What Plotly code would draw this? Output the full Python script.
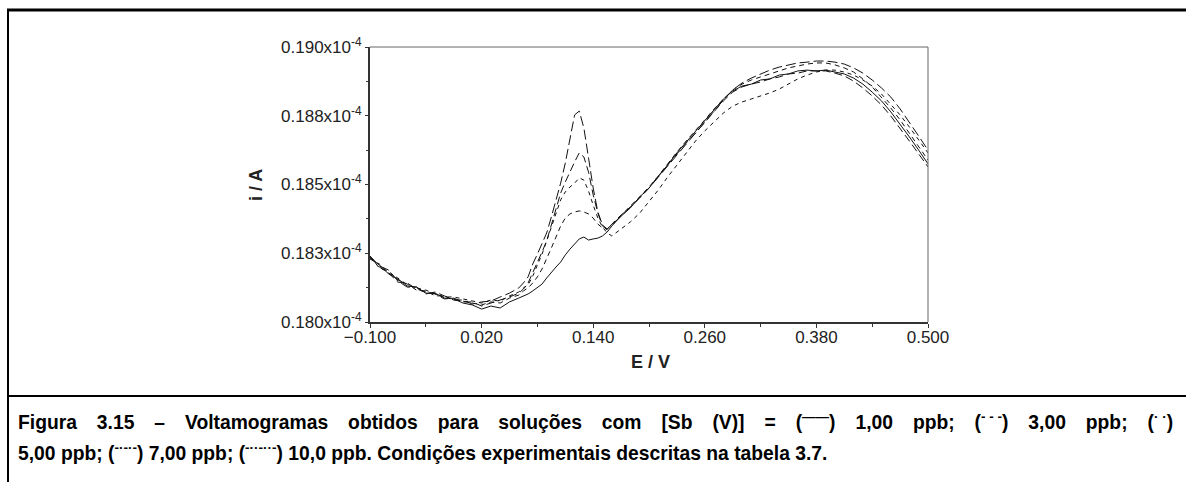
import plotly.graph_objects as go

# Potential E / V
E = [-0.10, -0.09, -0.08, -0.07, -0.06, -0.05, -0.04, -0.03, -0.02, -0.01, 0.00, 0.01, 0.02, 0.03, 0.04, 0.05, 0.06,
     0.065, 0.07, 0.075, 0.08, 0.085, 0.09, 0.095, 0.10, 0.105, 0.11, 0.115, 0.12, 0.125, 0.13, 0.135, 0.14, 0.145, 0.15, 0.155,
     0.16, 0.17, 0.18, 0.19, 0.20, 0.21, 0.22, 0.23, 0.24, 0.25, 0.26, 0.27, 0.28, 0.29, 0.30, 0.31, 0.32, 0.33, 0.34,
     0.35, 0.36, 0.37, 0.38, 0.39, 0.40, 0.41, 0.42, 0.43, 0.44, 0.45, 0.46, 0.47, 0.48, 0.49, 0.50]

# Current, in units of 1e-4 A
i_1ppb = [.18233, .18207, .18175, .18156, .18131, .18127, .18105, .18105, .18087, .18084, .18069, .18062, .18047, .18058, .18051, .18073, .18087,
          .18095, .18102, .18113, .18124, .18138, .18160, .18182, .18200, .18218, .18244, .18265, .18284, .18302, .18309, .18298, .18302, .18305, .18313, .18327,
          .18349, .18385, .18415, .18455, .18487, .18527, .18571, .18615, .18655, .18691, .18731, .18771, .18811, .18840, .18858, .18865, .18880, .18884, .18898,
          .18902, .18913, .18916, .18913, .18916, .18909, .18902, .18887, .18865, .18836, .18804, .18764, .18720, .18673, .18625, .18575]

i_3ppb = [.18240, .18196, .18185, .18153, .18138, .18116, .18113, .18095, .18095, .18080, .18076, .18069, .18062, .18073, .18069, .18087, .18098,
          .18113, .18124, .18142, .18164, .18193, .18229, .18269, .18309, .18349, .18378, .18393, .18400, .18404, .18400, .18393, .18378, .18356, .18342, .18338,
          .18353, .18389, .18422, .18455, .18491, .18531, .18575, .18618, .18658, .18695, .18735, .18775, .18811, .18844, .18865, .18880, .18891, .18902, .18913,
          .18924, .18931, .18938, .18942, .18942, .18935, .18924, .18909, .18884, .18855, .18818, .18778, .18735, .18687, .18640, .18589]

i_5ppb = [.18229, .18211, .18178, .18160, .18135, .18124, .18116, .18102, .18091, .18091, .18084, .18076, .18069, .18080, .18076, .18095, .18109,
          .18124, .18135, .18167, .18204, .18247, .18295, .18345, .18400, .18444, .18473, .18491, .18505, .18524, .18516, .18476, .18425, .18378, .18345, .18324,
          .18313, .18338, .18364, .18396, .18436, .18480, .18527, .18571, .18618, .18658, .18695, .18727, .18760, .18785, .18800, .18811, .18822, .18833, .18847,
          .18865, .18884, .18898, .18909, .18916, .18916, .18909, .18898, .18880, .18858, .18829, .18793, .18753, .18709, .18662, .18615]

i_7ppb = [.18236, .18200, .18178, .18145, .18142, .18120, .18109, .18102, .18084, .18087, .18073, .18073, .18058, .18069, .18080, .18091, .18105,
          .18120, .18142, .18178, .18218, .18255, .18295, .18353, .18415, .18469, .18509, .18549, .18582, .18615, .18600, .18545, .18462, .18396, .18349, .18335,
          .18356, .18389, .18418, .18451, .18487, .18531, .18571, .18615, .18651, .18687, .18727, .18767, .18804, .18836, .18855, .18865, .18873, .18884, .18891,
          .18902, .18905, .18913, .18913, .18913, .18905, .18895, .18876, .18851, .18822, .18789, .18749, .18705, .18658, .18611, .18564]

i_10ppb = [.18240, .18204, .18189, .18149, .18127, .18127, .18102, .18109, .18095, .18080, .18080, .18065, .18073, .18076, .18091, .18105, .18124,
           .18142, .18164, .18211, .18247, .18284, .18324, .18382, .18444, .18505, .18578, .18665, .18753, .18767, .18705, .18596, .18487, .18400, .18353, .18338,
           .18353, .18385, .18418, .18451, .18487, .18527, .18567, .18611, .18651, .18691, .18731, .18771, .18807, .18844, .18869, .18887, .18902, .18916, .18927,
           .18935, .18942, .18945, .18949, .18949, .18945, .18938, .18924, .18905, .18880, .18851, .18818, .18775, .18727, .18676, .18625]

series_names = ["1,00 ppb", "3,00 ppb", "5,00 ppb", "7,00 ppb", "10,0 ppb"]
series_vals = [i_1ppb, i_3ppb, i_5ppb, i_7ppb, i_10ppb]
series_dash = ["solid", "5px,4px", "4px,4px", "8px,4px", "10px,4px"]

y_tickvals = [0.1800, 0.1825, 0.1850, 0.1875, 0.1900]
y_ticklabels = ["0.180x10<sup>-4</sup>", "0.183x10<sup>-4</sup>", "0.185x10<sup>-4</sup>",
                "0.188x10<sup>-4</sup>", "0.190x10<sup>-4</sup>"]

caption_1_words = ["Figura", "3.15", "–", "Voltamogramas", "obtidos", "para", "soluções", "com",
                   "[Sb", "(V)]", "=", "(<sup>——</sup>)", "1,00", "ppb;", "(<sup>- - -</sup>)",
                   "3,00", "ppb;", "(<sup>· ·</sup>)"]
caption_2 = ("5,00 ppb; (<sup>-·-·-</sup>) 7,00 ppb; (<sup>-··-··-</sup>) 10,0 ppb. "
             "Condições experimentais descritas na tabela 3.7.")

W, H = 1186, 482
FONT = "Liberation Sans, Arial, sans-serif"
NB = "\u00a0"
THIN = "\u2009"

fig = go.Figure()
for name, vals, dash in zip(series_names, series_vals, series_dash):
    fig.add_trace(go.Scatter(x=E, y=vals, mode="lines", name=name,
                             line=dict(color="#111111", width=1, dash=dash)))

def px_x(p):
    return p / W

def px_y(p):
    return 1 - p / H

fig.update_layout(
    width=W, height=H, autosize=False,
    margin=dict(l=0, r=0, t=0, b=0, pad=0, autoexpand=False),
    paper_bgcolor="white", plot_bgcolor="white",
    showlegend=False,
    font=dict(family=FONT, color="#222222"),
    xaxis=dict(domain=[px_x(370), px_x(928)], range=[-0.1, 0.5], automargin=False,
               tick0=-0.1, dtick=0.12, tickformat=".3f",
               ticks="outside", ticklen=4, tickwidth=1, tickcolor="#333333",
               ticklabelstandoff=-5,
               minor=dict(dtick=0.06, tick0=-0.1, ticks="outside", ticklen=3, tickcolor="#333333"),
               showline=True, linecolor="#333333", linewidth=2,
               showgrid=False, zeroline=False,
               tickfont=dict(size=17, family=FONT, color="#222222")),
    yaxis=dict(domain=[px_y(322), px_y(47)], range=[0.18, 0.19], automargin=False,
               tickmode="array", tickvals=y_tickvals, ticktext=y_ticklabels,
               ticks="outside", ticklen=3, tickwidth=1, tickcolor="#333333",
               minor=dict(tickmode="array", tickvals=[0.18125, 0.18375, 0.18625, 0.18875],
                          ticks="outside", ticklen=2, tickcolor="#333333"),
               showline=True, linecolor="#333333", linewidth=2,
               showgrid=False, zeroline=False,
               tickfont=dict(size=17, family=FONT, color="#222222")),
)

# top and right plot border (thin, grey)
fig.add_shape(type="line", xref="paper", yref="paper",
              x0=px_x(370), x1=px_x(928), y0=px_y(47), y1=px_y(47),
              line=dict(color="#666666", width=1))
fig.add_shape(type="line", xref="paper", yref="paper",
              x0=px_x(928), x1=px_x(928), y0=px_y(47), y1=px_y(322),
              line=dict(color="#666666", width=1))

# page frame lines
fig.add_shape(type="line", xref="paper", yref="paper",
              x0=px_x(7), x1=1, y0=px_y(10), y1=px_y(10), line=dict(color="black", width=3))
fig.add_shape(type="line", xref="paper", yref="paper",
              x0=px_x(8), x1=px_x(8), y0=px_y(9), y1=0, line=dict(color="black", width=2))
fig.add_shape(type="line", xref="paper", yref="paper",
              x0=px_x(7), x1=1, y0=px_y(396), y1=px_y(396), line=dict(color="black", width=2))

# axis titles
fig.add_annotation(text="<b>i / A</b>", xref="paper", yref="paper",
                   x=px_x(256), y=px_y(185), xanchor="center", yanchor="middle",
                   textangle=-90, showarrow=False,
                   font=dict(size=18, family=FONT, color="#222222"))
fig.add_annotation(text="<b>E / V</b>", xref="paper", yref="paper",
                   x=px_x(650), y=px_y(362), xanchor="center", yanchor="middle",
                   showarrow=False,
                   font=dict(size=18, family=FONT, color="#222222"))

# caption (first line justified to full width)
caption_1 = (" " + NB + NB + THIN).join(caption_1_words)
fig.add_annotation(text="<b>" + caption_1 + "</b>", xref="paper", yref="paper",
                   x=px_x(16), y=px_y(421), xanchor="left", yanchor="middle", showarrow=False,
                   font=dict(size=19.3, family=FONT, color="black"))
fig.add_annotation(text="<b>" + caption_2 + "</b>", xref="paper", yref="paper",
                   x=px_x(16), y=px_y(452), xanchor="left", yanchor="middle", showarrow=False,
                   font=dict(size=19.3, family=FONT, color="black"))

fig.write_html("out.html")
